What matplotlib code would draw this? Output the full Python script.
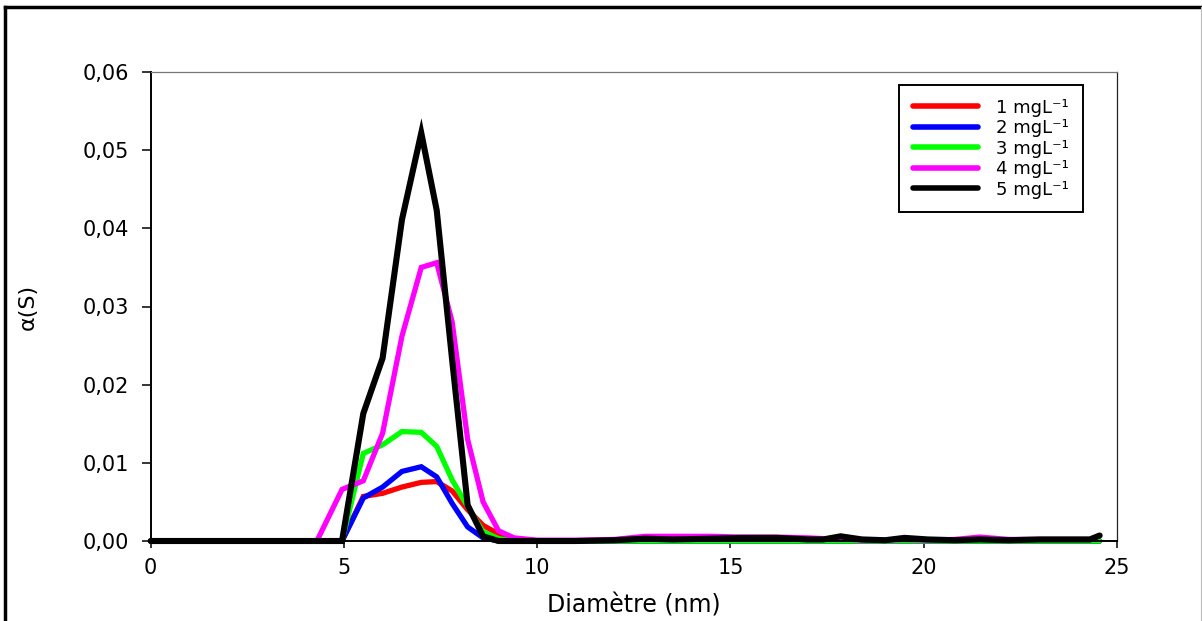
import matplotlib
matplotlib.use("Agg")
import matplotlib.pyplot as plt
from matplotlib.lines import Line2D
from matplotlib.ticker import FuncFormatter, MultipleLocator

plt.rcParams['font.family'] = ['DejaVu Sans']
plt.rcParams['mathtext.fontset'] = 'dejavusans'

# Diameter grid (nm)
diametre = [0, 4.3, 4.95, 5.5, 6.0, 6.5, 7.0, 7.4, 7.8, 8.2, 8.6, 9.0, 9.4,
            10.0, 11.0, 12.0, 12.8, 13.5, 14.5, 15.3, 16.2, 17.0, 17.4,
            17.85, 18.4, 19.0, 19.5, 20.1, 20.8, 21.45, 22.2, 23.0, 23.8,
            24.3, 24.55]

# Size distributions alpha(S) for each concentration
c1 = [0, 0, 0, 0.0057, 0.0061, 0.0069, 0.0075, 0.0076, 0.0064, 0.0040,
      0.0020, 0.0009, 0.0002, 0, 0, 0, 0, 0, 0, 0, 0, 0, 0, 0, 0, 0, 0,
      0, 0, 0, 0, 0, 0, 0, 0]
c2 = [0, 0, 0, 0.0055, 0.0069, 0.0089, 0.0095, 0.0082, 0.0048, 0.0018,
      0.0004, 0, 0, 0, 0, 0, 0, 0, 0, 0, 0, 0, 0, 0, 0, 0, 0, 0, 0, 0,
      0, 0, 0, 0, 0]
c3 = [0, 0, 0, 0.0112, 0.0123, 0.0140, 0.0139, 0.0121, 0.0078, 0.0044,
      0.0012, 0.0003, 0, 0, 0, 0, 0, 0, 0, 0, 0, 0, 0, 0, 0, 0, 0, 0, 0,
      0, 0, 0, 0, 0, 0]
c4 = [0, 0, 0.0066, 0.0077, 0.0138, 0.0262, 0.0350, 0.0356, 0.0280, 0.0130,
      0.0050, 0.0013, 0.0004, 0.0001, 0.0001, 0.0002, 0.0006, 0.0006,
      0.0006, 0.0005, 0.0005, 0.0004, 0.0003, 0.0003, 0.0001, 0.0001,
      0.0002, 0.0001, 0.0002, 0.0005, 0.0002, 0.0002, 0.0002, 0.0002,
      0.0007]
c5 = [0, 0, 0, 0.0163, 0.0234, 0.0411, 0.0522, 0.0423, 0.0231, 0.0046,
      0.0006, 0, 0, 0, 0, 0.0001, 0.0003, 0.0002, 0.0003, 0.0004, 0.0004,
      0.0002, 0.0002, 0.0006, 0.0002, 0.0001, 0.0004, 0.0002, 0.0001,
      0.0002, 0.0001, 0.0002, 0.0002, 0.0002, 0.0007]

series = [c1, c2, c3, c4, c5]
labels = ["1 mgL⁻¹", "2 mgL⁻¹", "3 mgL⁻¹", "4 mgL⁻¹", "5 mgL⁻¹"]
colors = ["#ff0000", "#0000ff", "#00ff00", "#ff00ff", "#000000"]

W, H = 1202, 621
fig = plt.figure(figsize=(W / 100, H / 100), dpi=100)
ax = fig.add_axes([150.7 / W, 1 - 541 / H, (1117 - 150.7) / W, (541 - 72) / H])

for y, lab, col in zip(series, labels, colors):
    ax.plot(diametre, y, color=col, lw=3.8 if col != "#000000" else 4.4,
            label=lab, clip_on=False, solid_joinstyle='miter',
            solid_capstyle='round')

ax.set_xlim(0, 25)
ax.set_ylim(0, 0.06)
ax.xaxis.set_major_locator(MultipleLocator(5))
ax.yaxis.set_major_locator(MultipleLocator(0.01))
ax.yaxis.set_major_formatter(FuncFormatter(lambda v, p: f"{v:.2f}".replace('.', ',')))
ax.xaxis.set_major_formatter(FuncFormatter(lambda v, p: f"{v:.0f}"))

ax.tick_params(axis='x', direction='out', length=5, width=1.1, labelsize=15, pad=7)
ax.tick_params(axis='y', direction='out', length=6.5, width=1.1, labelsize=15, pad=9)
ax.tick_params(top=False, right=False)

for s in ['left', 'bottom']:
    ax.spines[s].set_linewidth(1.4)
    ax.spines[s].set_color('black')
ax.spines['top'].set_linewidth(0.9)
ax.spines['top'].set_color('#777777')
ax.spines['right'].set_linewidth(0.9)
ax.spines['right'].set_color('#222222')

ax.set_xlabel("Diamètre (nm)", fontsize=17)
ax.xaxis.set_label_coords(0.5, -(605 - 541) / 469)
ax.xaxis.label.set_va('center')
ax.set_ylabel("α(S)", fontsize=16)
ax.yaxis.set_label_coords(-(150.7 - 28) / (1117 - 150.7), 0.5)
ax.yaxis.label.set_va('center')

leg = ax.legend(loc='upper left',
                bbox_to_anchor=((899 - 150.7) / (1117 - 150.7), (541 - 85) / 469),
                fontsize=13, frameon=True, fancybox=False, framealpha=1,
                edgecolor='black', handlelength=3.65, handletextpad=1.0,
                labelspacing=0.14, borderpad=0.75, borderaxespad=0)
leg.get_frame().set_linewidth(1.4)
for h in leg.get_lines():
    h.set_linewidth(4)
    h.set_solid_capstyle('round')

# Outer frame of the figure
fig.add_artist(Line2D([5 / W, 5 / W], [0, 1 - 7 / H], color='black', lw=2.5,
                      transform=fig.transFigure))
fig.add_artist(Line2D([5 / W, 1], [1 - 7 / H, 1 - 7 / H], color='black', lw=2.5,
                      transform=fig.transFigure))
fig.add_artist(Line2D([1200.5 / W, 1200.5 / W], [0, 1 - 7 / H], color='#bbbbbb',
                      lw=0.8, transform=fig.transFigure))

fig.savefig("out.png", dpi=100)
